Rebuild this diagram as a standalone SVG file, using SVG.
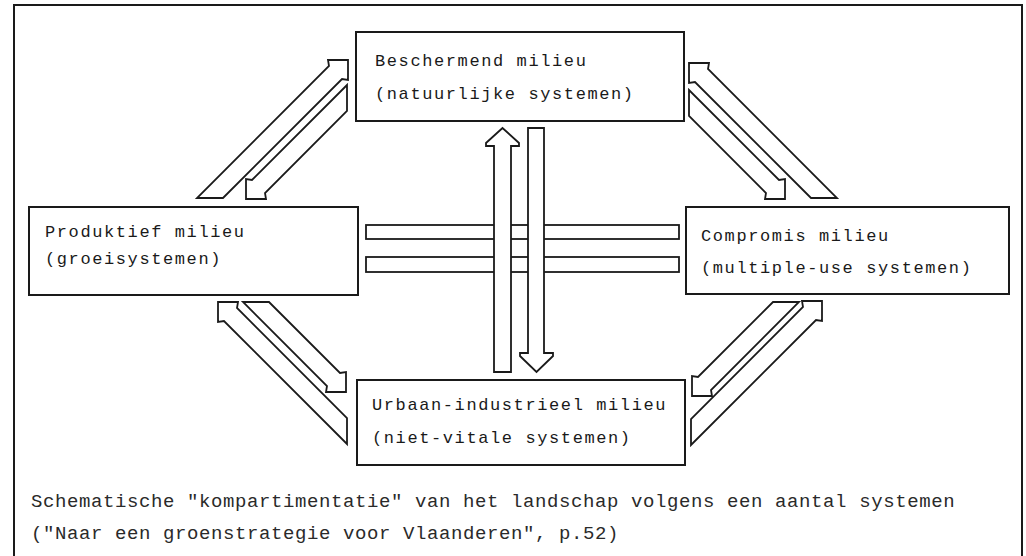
<svg xmlns="http://www.w3.org/2000/svg" width="1026" height="556" viewBox="0 0 1026 556">
<style>
.bg{fill:#ffffff}
.frame{fill:none;stroke:#1a1a1a;stroke-width:2}
.box{fill:#ffffff;stroke:#1a1a1a;stroke-width:2}
.arrow{fill:#ffffff;stroke:#1a1a1a;stroke-width:1.8;stroke-linejoin:miter}
.lbl{font-family:"Liberation Mono","DejaVu Sans Mono",monospace;font-size:17px;letter-spacing:1.6px;fill:#1a1a1a}
.cap{font-family:"Liberation Mono","DejaVu Sans Mono",monospace;font-size:19px;letter-spacing:0.6px;fill:#2a2a2a}
</style>
<rect class="bg" x="0" y="0" width="1026" height="556"/>
<path class="frame" d="M14,560 V5 H1022 V560"/>

<g id="connectors">
  <!-- horizontal bars between Produktief and Compromis -->
  <rect class="arrow" x="366" y="225" width="313" height="14"/>
  <rect class="arrow" x="366" y="257" width="313" height="15"/>
  <!-- vertical arrows between Beschermend and Urbaan-industrieel -->
  <polygon class="arrow" points="494,372 511,372 511,146 519,146 519,143 502.5,128 486,143 486,146 494,146"/>
  <polygon class="arrow" points="528,128 544,128 544,353 553,353 553,356 536.5,372 520,356 520,353 528,353"/>
  <!-- top-left pair -->
  <polygon class="arrow" points="348,60 328,60 329,66 197,198 223,198 342,79 348,80"/>
  <polygon class="arrow" points="246,199 246,179 252,180 347,85 347,111 265,193 266,199"/>
  <!-- top-right pair -->
  <polygon class="arrow" points="689,63 709,63 708,69 837,198 811,198 695,82 689,83"/>
  <polygon class="arrow" points="785,199 785,179 779,180 689,90 689,116 766,193 765,199"/>
  <!-- bottom-left pair -->
  <polygon class="arrow" points="218,302 238,302 237,308 347,418 347,444 224,321 218,322"/>
  <polygon class="arrow" points="346,392 346,372 340,373 269,302 243,302 327,386 326,392"/>
  <!-- bottom-right pair -->
  <polygon class="arrow" points="822,301 802,301 803,307 691,419 691,445 816,320 822,321"/>
  <polygon class="arrow" points="692,396 692,376 698,377 773,302 799,302 711,390 712,396"/>
</g>

<g id="beschermend">
  <rect class="box" x="356" y="32" width="328" height="89"/>
  <text class="lbl" x="375" y="66">Beschermend milieu</text>
  <text class="lbl" x="375" y="99">(natuurlijke systemen)</text>
</g>

<g id="produktief">
  <rect class="box" x="29" y="207" width="329" height="88"/>
  <text class="lbl" x="45" y="237">Produktief milieu</text>
  <text class="lbl" x="45" y="264">(groeisystemen)</text>
</g>

<g id="compromis">
  <rect class="box" x="686" y="207" width="323" height="87"/>
  <text class="lbl" x="701" y="241">Compromis milieu</text>
  <text class="lbl" x="701" y="273">(multiple-use systemen)</text>
</g>

<g id="urbaan">
  <rect class="box" x="357" y="380" width="328" height="85"/>
  <text class="lbl" x="372" y="410">Urbaan-industrieel milieu</text>
  <text class="lbl" x="372" y="443">(niet-vitale systemen)</text>
</g>

<g id="caption">
  <text class="cap" x="31" y="507">Schematische "kompartimentatie" van het landschap volgens een aantal systemen</text>
  <text class="cap" x="31" y="539">("Naar een groenstrategie voor Vlaanderen", p.52)</text>
</g>
</svg>
